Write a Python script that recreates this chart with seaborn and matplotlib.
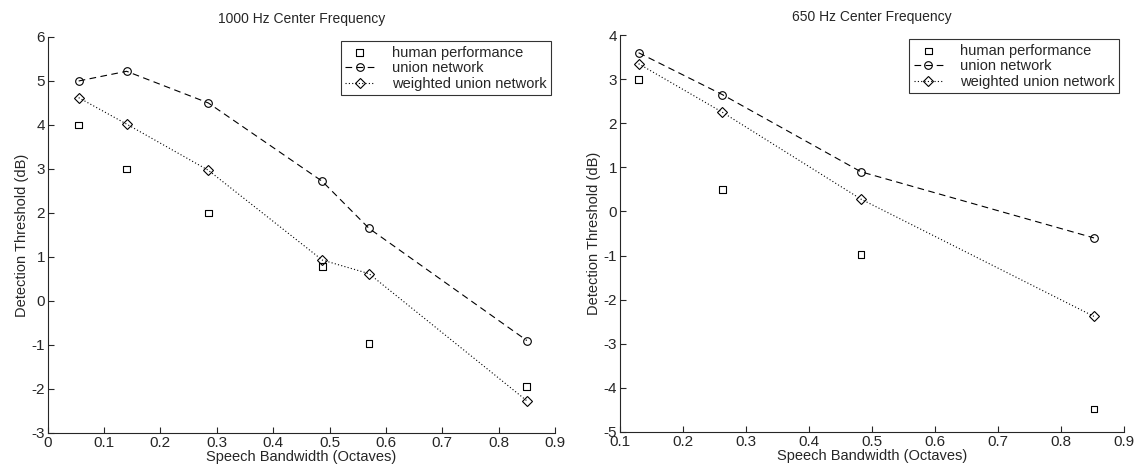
import numpy as np
import matplotlib
matplotlib.use('Agg')
import matplotlib.pyplot as plt
from matplotlib.ticker import FormatStrFormatter
import seaborn as sns

# 1000 Hz center frequency
bw_1000 = [0.055, 0.14, 0.285, 0.487, 0.57, 0.85]
human_1000 = [4.0, 3.0, 2.0, 0.78, -0.97, -1.95]
union_1000 = [5.0, 5.22, 4.5, 2.72, 1.65, -0.9]
weighted_1000 = [4.62, 4.02, 2.97, 0.93, 0.62, -2.27]

# 650 Hz center frequency
bw_650 = [0.13, 0.263, 0.483, 0.853]
human_650 = [3.0, 0.5, -0.98, -4.48]
union_650 = [3.6, 2.65, 0.9, -0.6]
weighted_650 = [3.35, 2.25, 0.28, -2.38]

sns.set_style('ticks')
plt.rcParams['font.family'] = ['Liberation Sans', 'DejaVu Sans']
plt.rcParams['xtick.direction'] = 'in'
plt.rcParams['ytick.direction'] = 'in'
plt.rcParams['axes.unicode_minus'] = False


def draw_panel(ax, x, human, union, weighted, title, xlim, ylim):
    sns.scatterplot(x=x, y=human, ax=ax, marker='s', s=24, facecolor='none',
                    edgecolor='black', linewidth=0.8, label='human performance')
    sns.lineplot(x=x, y=union, ax=ax, color='black', linestyle=(0, (6, 4)),
                 linewidth=0.8, marker='o', markersize=5.5, mfc='none', mec='black',
                 mew=0.8, sort=False, label='union network')
    sns.lineplot(x=x, y=weighted, ax=ax, color='black', linestyle=(0, (1, 2)),
                 linewidth=0.8, marker='D', markersize=5, mfc='none', mec='black',
                 mew=0.8, sort=False, label='weighted union network')
    ax.set_xlim(*xlim)
    ax.set_ylim(*ylim)
    ax.set_xticks(np.round(np.arange(xlim[0], xlim[1] + 0.01, 0.1), 1))
    ax.set_yticks(np.arange(ylim[0], ylim[1] + 1, 1))
    ax.xaxis.set_major_formatter(FormatStrFormatter('%g'))
    ax.set_title(title, fontsize=10, pad=10)
    ax.set_xlabel('Speech Bandwidth (Octaves)', fontsize=10.5, labelpad=0)
    ax.set_ylabel('Detection Threshold (dB)', fontsize=10.5, labelpad=2)
    ax.tick_params(labelsize=11, length=4, width=0.8, pad=2)
    sns.despine(ax=ax)
    for s in ['left', 'bottom']:
        ax.spines[s].set_linewidth(0.8)
    leg = ax.legend(loc='upper right', fontsize=10.5, frameon=True, fancybox=False,
                    borderaxespad=0.3, handlelength=2.0, labelspacing=0.1,
                    borderpad=0.3, handletextpad=1.2)
    leg.get_frame().set_edgecolor('black')
    leg.get_frame().set_linewidth(0.8)


fig = plt.figure(figsize=(11.35, 4.68), dpi=100)
ax1 = fig.add_axes([0.042, 0.075, 0.447, 0.846])
ax2 = fig.add_axes([0.546, 0.077, 0.444, 0.848])

draw_panel(ax1, bw_1000, human_1000, union_1000, weighted_1000,
           '1000 Hz Center Frequency', (0, 0.9), (-3, 6))
draw_panel(ax2, bw_650, human_650, union_650, weighted_650,
           '650 Hz Center Frequency', (0.1, 0.9), (-5, 4))

fig.savefig('out.png', dpi=100)
plt.close()
